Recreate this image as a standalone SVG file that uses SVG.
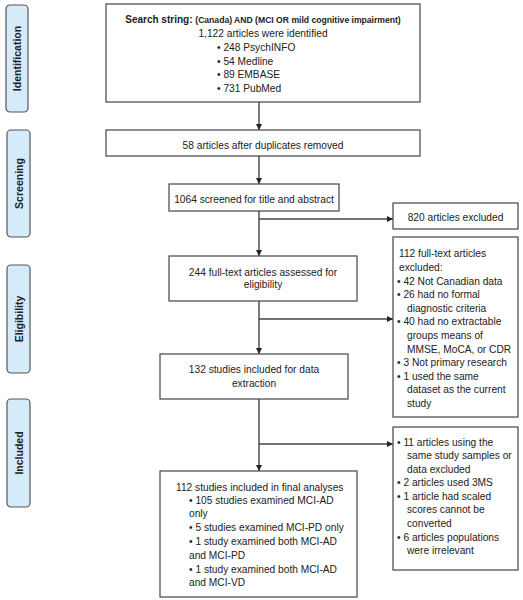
<svg xmlns="http://www.w3.org/2000/svg" width="523" height="600" viewBox="0 0 523 600">
<defs>
<marker id="ah" viewBox="0 0 10 10" refX="10" refY="5" markerWidth="6" markerHeight="6" orient="auto" markerUnits="userSpaceOnUse">
<path d="M0,0 L10,5 L0,10 z" fill="#222"/>
</marker>
<style>
text{font-family:"Liberation Sans",Arial,sans-serif;font-size:10.2px;fill:#222}
.box{fill:#fff;stroke:#444;stroke-width:1.2}
.lab{fill:#d5ebfa;stroke:#555;stroke-width:1.2}
.lt{font-weight:bold;font-size:10.5px;text-anchor:middle}
.c{text-anchor:middle}
.ln{stroke:#444;stroke-width:1.4;fill:none}
</style>
</defs>
<rect width="523" height="600" fill="#fff"/>

<g id="label-identification"><rect class="lab" x="6" y="5" width="22" height="107" rx="4"/><text class="lt" transform="translate(21,58.5) rotate(-90)">Identification</text></g>
<g id="label-screening"><rect class="lab" x="7" y="130" width="23" height="107" rx="4"/><text class="lt" transform="translate(22.5,183.5) rotate(-90)">Screening</text></g>
<g id="label-eligibility"><rect class="lab" x="7" y="265" width="23" height="108" rx="4"/><text class="lt" transform="translate(22.5,319) rotate(-90)">Eligibility</text></g>
<g id="label-included"><rect class="lab" x="7" y="399" width="23" height="108" rx="4"/><text class="lt" transform="translate(22.5,453) rotate(-90)">Included</text></g>

<g id="connectors">
<line class="ln" x1="259" y1="102" x2="259" y2="130" marker-end="url(#ah)"/>
<line class="ln" x1="259" y1="156" x2="259" y2="184" marker-end="url(#ah)"/>
<line class="ln" x1="259" y1="211" x2="259" y2="256" marker-end="url(#ah)"/>
<line class="ln" x1="259" y1="219" x2="393" y2="219" marker-end="url(#ah)"/>
<line class="ln" x1="259" y1="301" x2="259" y2="354" marker-end="url(#ah)"/>
<line class="ln" x1="259" y1="319" x2="393" y2="319" marker-end="url(#ah)"/>
<line class="ln" x1="259" y1="399" x2="259" y2="471" marker-end="url(#ah)"/>
<line class="ln" x1="259" y1="444" x2="393" y2="444" marker-end="url(#ah)"/>
</g>

<g id="node-search">
<rect class="box" x="106" y="4" width="314" height="98"/>
<text class="c" x="263" y="23" font-weight="bold"><tspan font-size="10">Search string: </tspan><tspan font-size="8.6">(Canada) AND (MCI OR mild cognitive impairment)</tspan></text>
<text class="c" x="263" y="37">1,122 articles were identified</text>
<text x="217" y="51">•  248 PsychINFO</text>
<text x="217" y="65">•  54 Medline</text>
<text x="217" y="78">•  89 EMBASE</text>
<text x="217" y="92">•  731 PubMed</text>
</g>

<g id="node-duplicates">
<rect class="box" x="106" y="130" width="314" height="26"/>
<text class="c" x="263" y="148.5">58 articles after duplicates removed</text>
</g>

<g id="node-screened">
<rect class="box" x="169" y="184" width="170" height="27"/>
<text class="c" x="254" y="202.5">1064 screened for title and abstract</text>
</g>

<g id="node-excluded820">
<rect class="box" x="393" y="203" width="125" height="26"/>
<text class="c" x="455.5" y="220.5">820 articles excluded</text>
</g>

<g id="node-fulltext">
<rect class="box" x="169" y="256" width="188" height="45"/>
<text class="c" x="263" y="275.5">244 full-text articles assessed for</text>
<text class="c" x="263" y="288">eligibility</text>
</g>

<g id="node-excluded112">
<rect class="box" x="393" y="237" width="125" height="180"/>
<text x="399" y="256.5">112 full-text articles</text>
<text x="399" y="270.5">excluded:</text>
<text x="397" y="284.5">• 42 Not Canadian data</text>
<text x="397" y="298">• 26 had no formal</text>
<text x="407" y="311.5">diagnostic criteria</text>
<text x="397" y="325">• 40 had no extractable</text>
<text x="407" y="338.5">groups means of</text>
<text x="407" y="352.5">MMSE, MoCA, or CDR</text>
<text x="397" y="366">• 3 Not primary research</text>
<text x="397" y="379.5">• 1 used the same</text>
<text x="407" y="393">dataset as the current</text>
<text x="407" y="406.5">study</text>
</g>

<g id="node-dataextraction">
<rect class="box" x="160" y="354" width="188" height="45"/>
<text class="c" x="254" y="372.5">132 studies included for data</text>
<text class="c" x="254" y="386.5">extraction</text>
</g>

<g id="node-excluded-other">
<rect class="box" x="393" y="427" width="125" height="143"/>
<text x="397" y="445.5">• 11 articles using the</text>
<text x="407" y="459">same study samples or</text>
<text x="407" y="472.5">data excluded</text>
<text x="397" y="486">• 2 articles used 3MS</text>
<text x="397" y="499.5">• 1 article had scaled</text>
<text x="407" y="513">scores cannot be</text>
<text x="407" y="526.5">converted</text>
<text x="397" y="540.5">• 6 articles populations</text>
<text x="407" y="554">were irrelevant</text>
</g>

<g id="node-final">
<rect class="box" x="160" y="471" width="197" height="126"/>
<text x="176" y="490.5">112 studies included in final analyses</text>
<text x="189" y="504">• 105 studies examined MCI-AD</text>
<text x="189" y="517">only</text>
<text x="189" y="531">• 5 studies examined MCI-PD only</text>
<text x="189" y="545">• 1 study examined both MCI-AD</text>
<text x="189" y="558.5">and MCI-PD</text>
<text x="189" y="572.5">• 1 study examined both MCI-AD</text>
<text x="189" y="586">and MCI-VD</text>
</g>
</svg>
